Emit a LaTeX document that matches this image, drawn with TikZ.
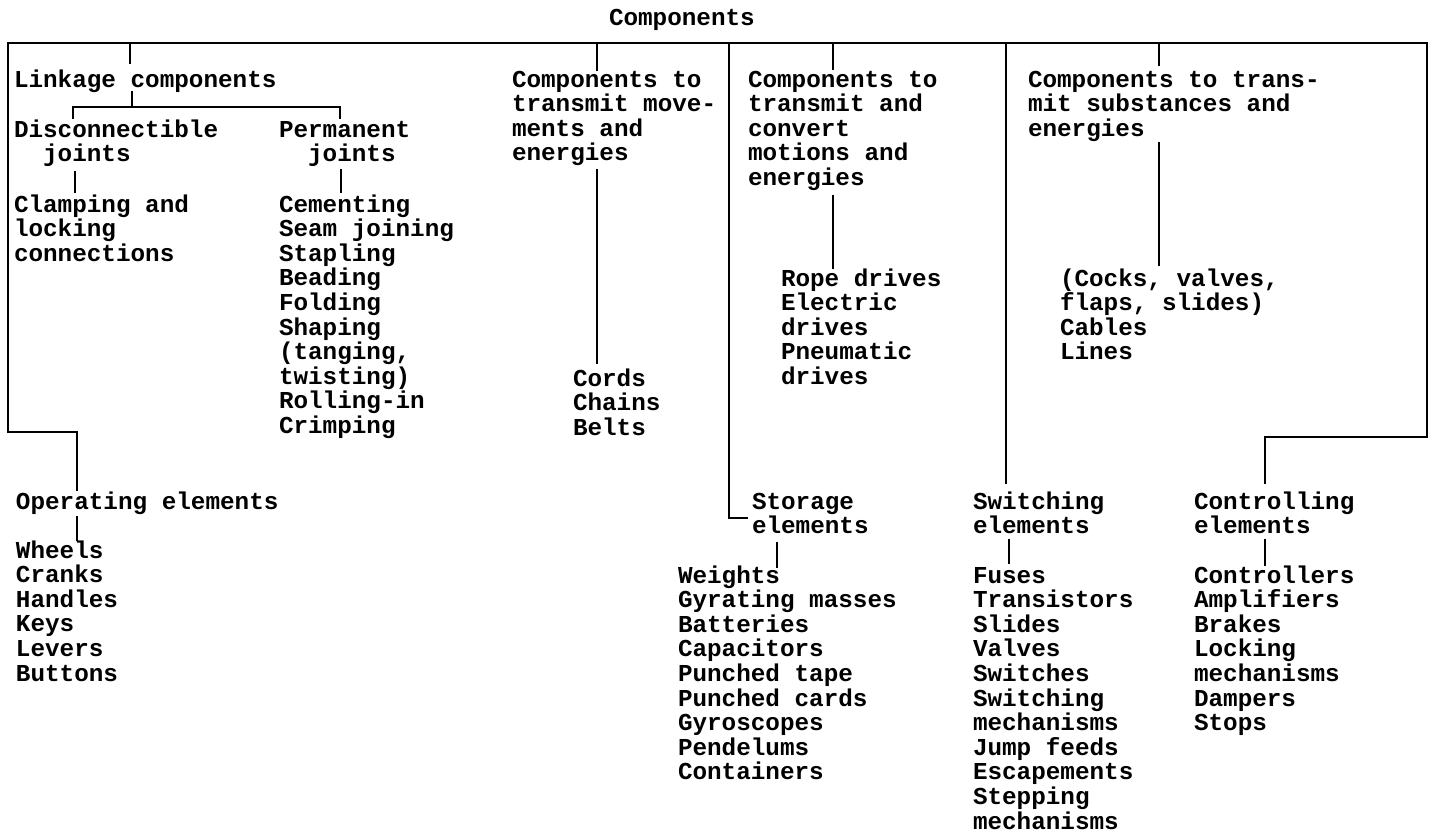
\documentclass[tikz,border=0pt]{standalone}
\usepackage{fontspec}
\newfontfamily\twfont{Liberation Mono}
\newcommand\tlines[1]{\vtop{\baselineskip=24.6pt\lineskiplimit=-50pt\lineskip=0pt\halign{##\hfil\cr#1\crcr}}}
\newcommand\ind{\hphantom{xx}}
\tikzset{
  txt/.style={anchor=base west, inner sep=0pt, outer sep=0pt, font=\twfont\bfseries\fontsize{24.3}{24.6}\selectfont},
  conn/.style={line width=2.2pt, line cap=rect, line join=miter, black}
}
\begin{document}
\begin{tikzpicture}[x=1pt,y=-1pt]
\useasboundingbox (0,0) rectangle (1436,838);
\fill[white] (0,0) rectangle (1436,838);
% text nodes
\node[txt] (title) at (609,25) {Components};
\node[txt] (link) at (14,87) {Linkage components};
\node[txt] (disc) at (14,137) {\tlines{Disconnectible\cr\ind joints}};
\node[txt] (clamp) at (14,212) {\tlines{Clamping and\cr locking\cr connections}};
\node[txt] (perm) at (279,137) {\tlines{Permanent\cr\ind joints}};
\node[txt] (cem) at (279,212) {\tlines{Cementing\cr Seam joining\cr Stapling\cr Beading\cr Folding\cr Shaping\cr (tanging,\cr twisting)\cr Rolling-in\cr Crimping}};
\node[txt] (mov) at (512,87) {\tlines{Components to\cr transmit move-\cr ments and\cr energies}};
\node[txt] (cords) at (573,386) {\tlines{Cords\cr Chains\cr Belts}};
\node[txt] (conv) at (748,87) {\tlines{Components to\cr transmit and\cr convert\cr motions and\cr energies}};
\node[txt] (rope) at (781,286) {\tlines{Rope drives\cr Electric\cr drives\cr Pneumatic\cr drives}};
\node[txt] (subs) at (1028,87) {\tlines{Components to trans-\cr mit substances and\cr energies}};
\node[txt] (cocks) at (1060,286) {\tlines{(Cocks, valves,\cr flaps, slides)\cr Cables\cr Lines}};
\node[txt] (op) at (16,509) {Operating elements};
\node[txt] (wheels) at (16,558) {\tlines{Wheels\cr Cranks\cr Handles\cr Keys\cr Levers\cr Buttons}};
\node[txt] (stor) at (752,509) {\tlines{Storage\cr elements}};
\node[txt] (weights) at (678,583) {\tlines{Weights\cr Gyrating masses\cr Batteries\cr Capacitors\cr Punched tape\cr Punched cards\cr Gyroscopes\cr Pendelums\cr Containers}};
\node[txt] (sw) at (973,509) {\tlines{Switching\cr elements}};
\node[txt] (fuses) at (973,583) {\tlines{Fuses\cr Transistors\cr Slides\cr Valves\cr Switches\cr Switching\cr mechanisms\cr Jump feeds\cr Escapements\cr Stepping\cr mechanisms}};
\node[txt] (ctl) at (1194,509) {\tlines{Controlling\cr elements}};
\node[txt] (ctls) at (1194,583) {\tlines{Controllers\cr Amplifiers\cr Brakes\cr Locking\cr mechanisms\cr Dampers\cr Stops}};
% junction coordinates
\coordinate (TL) at (8,43);
\coordinate (TR) at (1427,43);
\coordinate (lc1) at (8,432);
\coordinate (lc2) at (77,432);
\coordinate (opIn) at (77,490);
\coordinate (linkT) at (130,43);
\coordinate (linkIn) at (130,63);
\coordinate (linkOut) at (132,92);
\coordinate (linkJ) at (132,107);
\coordinate (discJ) at (73,107);
\coordinate (discIn) at (73,118);
\coordinate (permJ) at (340,107);
\coordinate (permIn) at (340,118);
\coordinate (discOut) at (75,172);
\coordinate (clampIn) at (75,192);
\coordinate (permOut) at (341,170);
\coordinate (cemIn) at (341,192);
\coordinate (opOut) at (77,517);
\coordinate (wheelsIn) at (77,540);
\coordinate (movT) at (597,43);
\coordinate (movIn) at (597,70);
\coordinate (movOut) at (597,170);
\coordinate (cordsIn) at (597,363);
\coordinate (storT) at (729,43);
\coordinate (storC) at (729,518);
\coordinate (storIn) at (747,518);
\coordinate (storOut) at (777,543);
\coordinate (weightsIn) at (777,567);
\coordinate (convT) at (833,43);
\coordinate (convIn) at (833,69);
\coordinate (convOut) at (833,196);
\coordinate (ropeIn) at (833,268);
\coordinate (swT) at (1006,43);
\coordinate (swIn) at (1006,483);
\coordinate (swOut) at (1009,540);
\coordinate (fusesIn) at (1009,563);
\coordinate (subsT) at (1159,43);
\coordinate (subsIn) at (1159,65);
\coordinate (subsOut) at (1159,143);
\coordinate (cocksIn) at (1159,265);
\coordinate (rc1) at (1427,437);
\coordinate (rc2) at (1265,437);
\coordinate (ctlIn) at (1265,483);
\coordinate (ctlOut) at (1265,540);
\coordinate (ctlsIn) at (1265,565);
% connectors
\draw[conn] (TL) -- (TR);
\draw[conn] (TL) -- (lc1) -- (lc2) -- (opIn);
\draw[conn] (linkT) -- (linkIn);
\draw[conn] (linkOut) -- (linkJ);
\draw[conn] (discIn) -- (discJ) -- (permJ) -- (permIn);
\draw[conn] (discOut) -- (clampIn);
\draw[conn] (permOut) -- (cemIn);
\draw[conn] (opOut) -- (wheelsIn);
\draw[conn] (movT) -- (movIn);
\draw[conn] (movOut) -- (cordsIn);
\draw[conn] (storT) -- (storC) -- (storIn);
\draw[conn] (storOut) -- (weightsIn);
\draw[conn] (convT) -- (convIn);
\draw[conn] (convOut) -- (ropeIn);
\draw[conn] (swT) -- (swIn);
\draw[conn] (swOut) -- (fusesIn);
\draw[conn] (subsT) -- (subsIn);
\draw[conn] (subsOut) -- (cocksIn);
\draw[conn] (TR) -- (rc1) -- (rc2) -- (ctlIn);
\draw[conn] (ctlOut) -- (ctlsIn);
\end{tikzpicture}
\end{document}
